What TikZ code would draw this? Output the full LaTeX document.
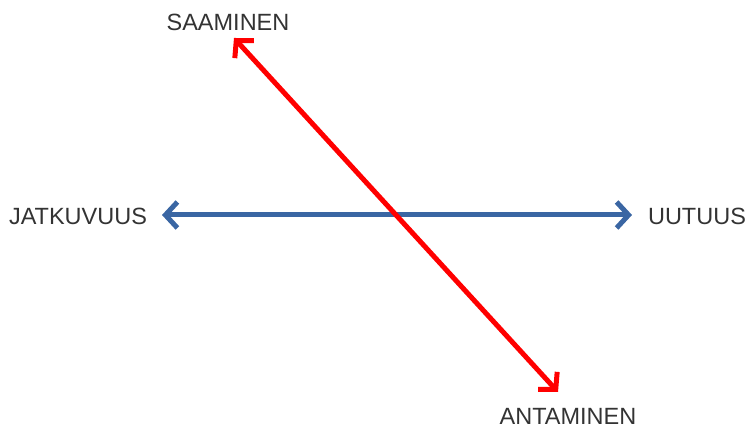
\documentclass[tikz,border=0pt]{standalone}
\usepackage{fontspec}
\setmainfont{Liberation Sans}
\definecolor{axisblue}{HTML}{3A66A3}
\definecolor{axisred}{HTML}{FF0000}
\definecolor{labelgray}{HTML}{333333}
\usepackage{tikz}
\usetikzlibrary{arrows.meta}

\begin{document}
\begin{tikzpicture}[x=1pt, y=1pt,
    pole/.style={font=\fontsize{23.5}{26}\selectfont, text=labelgray, inner sep=0pt},
    axisarrow/.style={{Straight Barb[length=12pt, width=26pt, line width=5pt]}-{Straight Barb[length=12pt, width=26pt, line width=5pt]}, line join=miter}]
  \useasboundingbox (0,0) rectangle (748,430);

  % labels at the four ends
  \node[pole] (saa) at (228,408) {SAAMINEN};
  \node[pole] (jat) at (78,214) {JATKUVUUS};
  \node[pole] (uut) at (697,214) {UUTUUS};
  \node[pole] (ant) at (568,14) {ANTAMINEN};

  % arrow ends
  \coordinate (jatEnd) at (162,215);
  \coordinate (uutEnd) at (632,215);
  \coordinate (saaEnd) at (234,392);
  \coordinate (antEnd) at (558,38);

  \draw[axisarrow, axisblue, line width=5pt] (jatEnd) -- (uutEnd);
  \draw[axisarrow, axisred, line width=5pt] (saaEnd) -- (antEnd);
\end{tikzpicture}
\end{document}
